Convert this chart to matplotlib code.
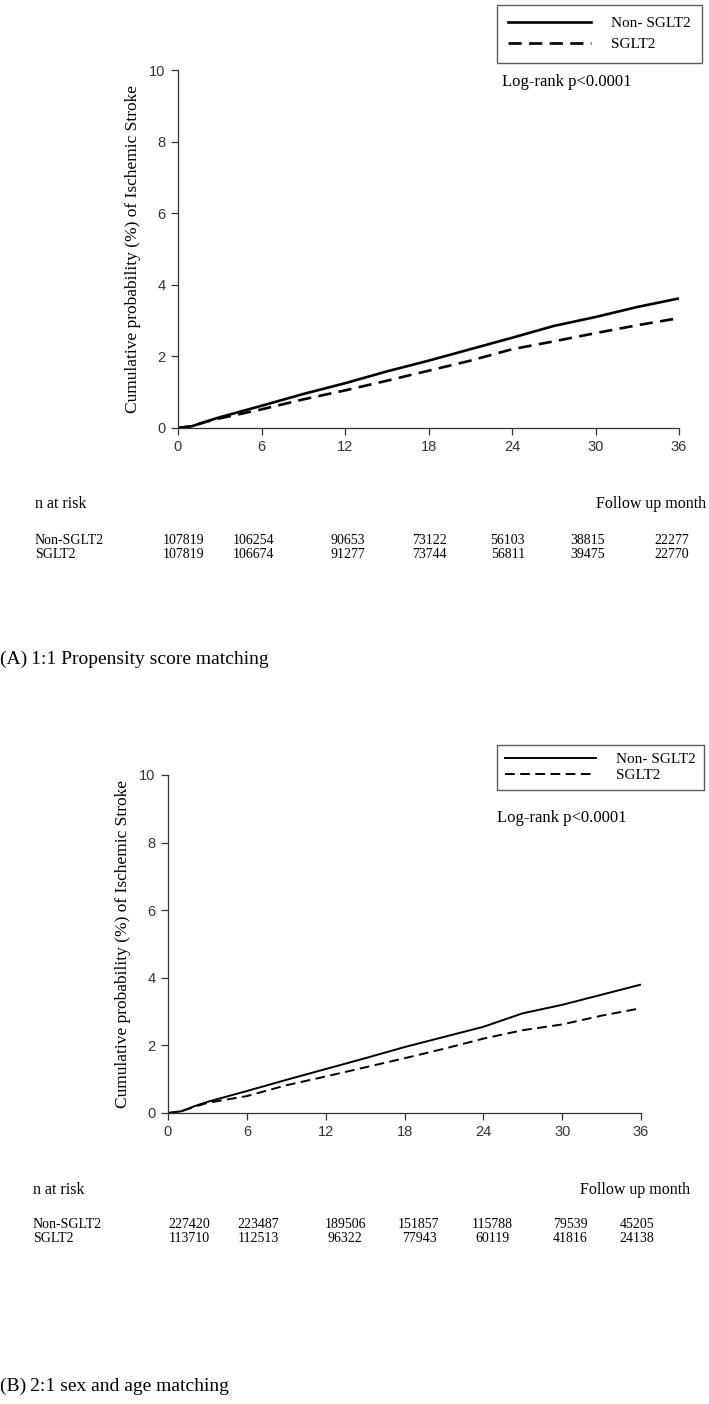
import matplotlib
matplotlib.use("Agg")
import matplotlib.pyplot as plt
from matplotlib.lines import Line2D
import matplotlib.transforms as mtransforms

# ---------------- data ----------------
months = [0, 1, 2, 3, 6, 9, 12, 15, 18, 21, 24, 27, 30, 33, 36]
a_non_sglt2 = [0, 0.05, 0.18, 0.30, 0.62, 0.95, 1.25, 1.58, 1.88, 2.20, 2.52, 2.85, 3.10, 3.38, 3.62]
a_sglt2 = [0, 0.05, 0.17, 0.27, 0.52, 0.80, 1.05, 1.32, 1.60, 1.88, 2.20, 2.42, 2.65, 2.87, 3.07]
b_non_sglt2 = [0, 0.05, 0.20, 0.33, 0.65, 0.98, 1.30, 1.62, 1.95, 2.25, 2.55, 2.95, 3.20, 3.50, 3.80]
b_sglt2 = [0, 0.05, 0.18, 0.30, 0.50, 0.82, 1.08, 1.35, 1.62, 1.90, 2.20, 2.45, 2.62, 2.88, 3.10]

xticks = [0, 6, 12, 18, 24, 30, 36]
yticks = [0, 2, 4, 6, 8, 10]

a_risk_non = ["107819", "106254", "90653", "73122", "56103", "38815", "22277"]
a_risk_sglt2 = ["107819", "106674", "91277", "73744", "56811", "39475", "22770"]
b_risk_non = ["227420", "223487", "189506", "151857", "115788", "79539", "45205"]
b_risk_sglt2 = ["113710", "112513", "96322", "77943", "60119", "41816", "24138"]

series_labels = ["Non- SGLT2", "SGLT2"]
row_labels = ["Non-SGLT2", "SGLT2"]
ylabel = "Cumulative probability (%) of Ischemic Stroke"
captions = ["(A)\u20091:1 Propensity score matching", "(B)\u20092:1 sex and age matching"]

# layout positions (data units along x for risk numbers)
a_risk_x = [0.4, 5.4, 12.2, 18.1, 23.7, 29.4, 35.5]
b_risk_x = [1.6, 6.9, 13.5, 19.1, 24.7, 30.6, 35.7]

SERIF = ["Liberation Serif", "DejaVu Serif"]
SANS = ["Liberation Sans", "DejaVu Sans"]

W, H = 709, 1404
fig = plt.figure(figsize=(W / 100, H / 100), dpi=100)


def fx(px):
    return px / W


def fy(py):
    return 1 - py / H


def panel(ax_box, non, sg, lw, legend_box, logrank_xy, risk_x, risk_non, risk_sg,
          nrisk_y, rows_y, label_x, follow_x, lab_spacing, bpad, hlen):
    l, t, r, b = ax_box
    ax = fig.add_axes([fx(l), fy(b), fx(r) - fx(l), fy(t) - fy(b)])
    ax.plot(months, non, color="black", lw=lw, solid_capstyle="butt")
    ax.plot(months, sg, color="black", lw=lw, dashes=(5, 2.8))
    ax.set_xlim(0, 36)
    ax.set_ylim(0, 10)
    ax.set_xticks(xticks)
    ax.set_yticks(yticks)
    ax.set_xticklabels([str(v) for v in xticks], family=SANS, fontsize=10.5, color="#1a1a1a")
    ax.set_yticklabels([str(v) for v in yticks], family=SANS, fontsize=10.5, color="#1a1a1a")
    ax.tick_params(direction="out", length=5, width=0.9, pad=4, colors="#333333")
    for s in ["top", "right"]:
        ax.spines[s].set_visible(False)
    for s in ["left", "bottom"]:
        ax.spines[s].set_linewidth(0.9)
        ax.spines[s].set_color("#333333")
    ax.set_ylabel(ylabel, family=SERIF, fontsize=12.5, labelpad=6)

    # legend
    lx0, ly0, lx1, ly1 = legend_box
    handles = [Line2D([], [], color="black", lw=lw),
               Line2D([], [], color="black", lw=lw, dashes=(5, 2.8))]
    leg = fig.legend(handles, series_labels, loc="upper left",
                     bbox_to_anchor=(fx(lx0), fy(ly0)),
                     frameon=True, fancybox=False, edgecolor="#333333",
                     prop={"family": SERIF, "size": 11}, handlelength=hlen,
                     handletextpad=1.3, borderpad=bpad, labelspacing=lab_spacing,
                     borderaxespad=0)
    leg.get_frame().set_linewidth(1.0)

    fig.text(fx(logrank_xy[0]), fy(logrank_xy[1]), "Log-rank p<0.0001",
             family=SERIF, fontsize=12, ha="left", va="center")

    # risk table
    trans = mtransforms.blended_transform_factory(ax.transData, fig.transFigure)
    fig.text(fx(label_x), fy(nrisk_y), "n at risk", family=SERIF, fontsize=11.5,
             ha="left", va="center")
    fig.text(fx(follow_x), fy(nrisk_y), "Follow up month", family=SERIF, fontsize=11.5,
             ha="right", va="center")
    for lab, vals, yy in zip(row_labels, [risk_non, risk_sg], rows_y):
        fig.text(fx(label_x), fy(yy), lab, family=SERIF, fontsize=10, ha="left", va="center")
        for xv, v in zip(risk_x, vals):
            ax.text(xv, fy(yy), v, transform=trans, family=SERIF, fontsize=10,
                    ha="center", va="center")
    return ax


panel((178, 70, 679, 428), a_non_sglt2, a_sglt2, 1.9,
      (497, 5, 700, 62), (502, 82), a_risk_x, a_risk_non, a_risk_sglt2,
      504, (541, 555), 35, 706, 0.5, 0.75, 5.4)
panel((168, 775, 641, 1113), b_non_sglt2, b_sglt2, 1.4,
      (497, 745, 700, 790), (497, 818), b_risk_x, b_risk_non, b_risk_sglt2,
      1190, (1224, 1238), 33, 690, 0.15, 0.5, 6.0)

fig.text(0.0, fy(659), captions[0], family=SERIF, fontsize=14, ha="left", va="center")
fig.text(0.0, fy(1386), captions[1], family=SERIF, fontsize=14, ha="left", va="center")

fig.savefig("out.png", dpi=100)
